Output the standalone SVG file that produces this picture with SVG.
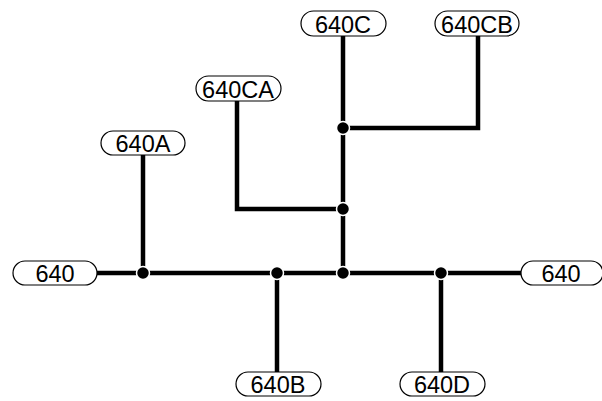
<svg xmlns="http://www.w3.org/2000/svg" width="602" height="401" viewBox="0 0 602 401">
<style>
.pill{fill:#fff;stroke:#000;stroke-width:1.2}
.lbl{font-family:"Liberation Sans",Arial,sans-serif;font-size:23.5px;fill:#000;text-anchor:middle;dominant-baseline:central}
.wire{fill:none;stroke:#000;stroke-width:4.5;stroke-linejoin:miter;stroke-linecap:butt}
.dot{fill:#000;stroke:#fff;stroke-width:1.5}
</style>
<rect width="602" height="401" fill="#fff"/>
<g id="connectors">
<path class="wire" d="M97,273 H521"/>
<path class="wire" d="M143,155 V273"/>
<path class="wire" d="M277,273 V372"/>
<path class="wire" d="M441,273 V372"/>
<path class="wire" d="M343,36 V273"/>
<path class="wire" d="M237,101 V209 H343"/>
<path class="wire" d="M478,36 V128 H343"/>
<circle class="dot" cx="143" cy="273" r="6.5"/>
<circle class="dot" cx="277" cy="273" r="6.5"/>
<circle class="dot" cx="343" cy="273" r="6.5"/>
<circle class="dot" cx="441" cy="273" r="6.5"/>
<circle class="dot" cx="343" cy="209" r="6.5"/>
<circle class="dot" cx="343" cy="128" r="6.5"/>
</g>
<g id="n640L"><rect class="pill" x="13" y="261" width="84" height="24" rx="12"/><text class="lbl" x="55" y="274">640</text></g>
<g id="n640R"><rect class="pill" x="521" y="261" width="82" height="24" rx="12"/><text class="lbl" x="561" y="274">640</text></g>
<g id="n640A"><rect class="pill" x="101" y="131" width="84" height="24" rx="12"/><text class="lbl" x="143" y="144">640A</text></g>
<g id="n640CA"><rect class="pill" x="196" y="76" width="85" height="25" rx="12.5"/><text class="lbl" x="238" y="89.5">640CA</text></g>
<g id="n640C"><rect class="pill" x="301" y="11" width="85" height="25" rx="12.5"/><text class="lbl" x="343" y="24.5">640C</text></g>
<g id="n640CB"><rect class="pill" x="435" y="11" width="84" height="25" rx="12.5"/><text class="lbl" x="477" y="24.5">640CB</text></g>
<g id="n640B"><rect class="pill" x="236" y="372" width="85" height="24" rx="12"/><text class="lbl" x="278" y="385">640B</text></g>
<g id="n640D"><rect class="pill" x="400" y="372" width="85" height="24" rx="12"/><text class="lbl" x="442" y="385">640D</text></g>
</svg>
